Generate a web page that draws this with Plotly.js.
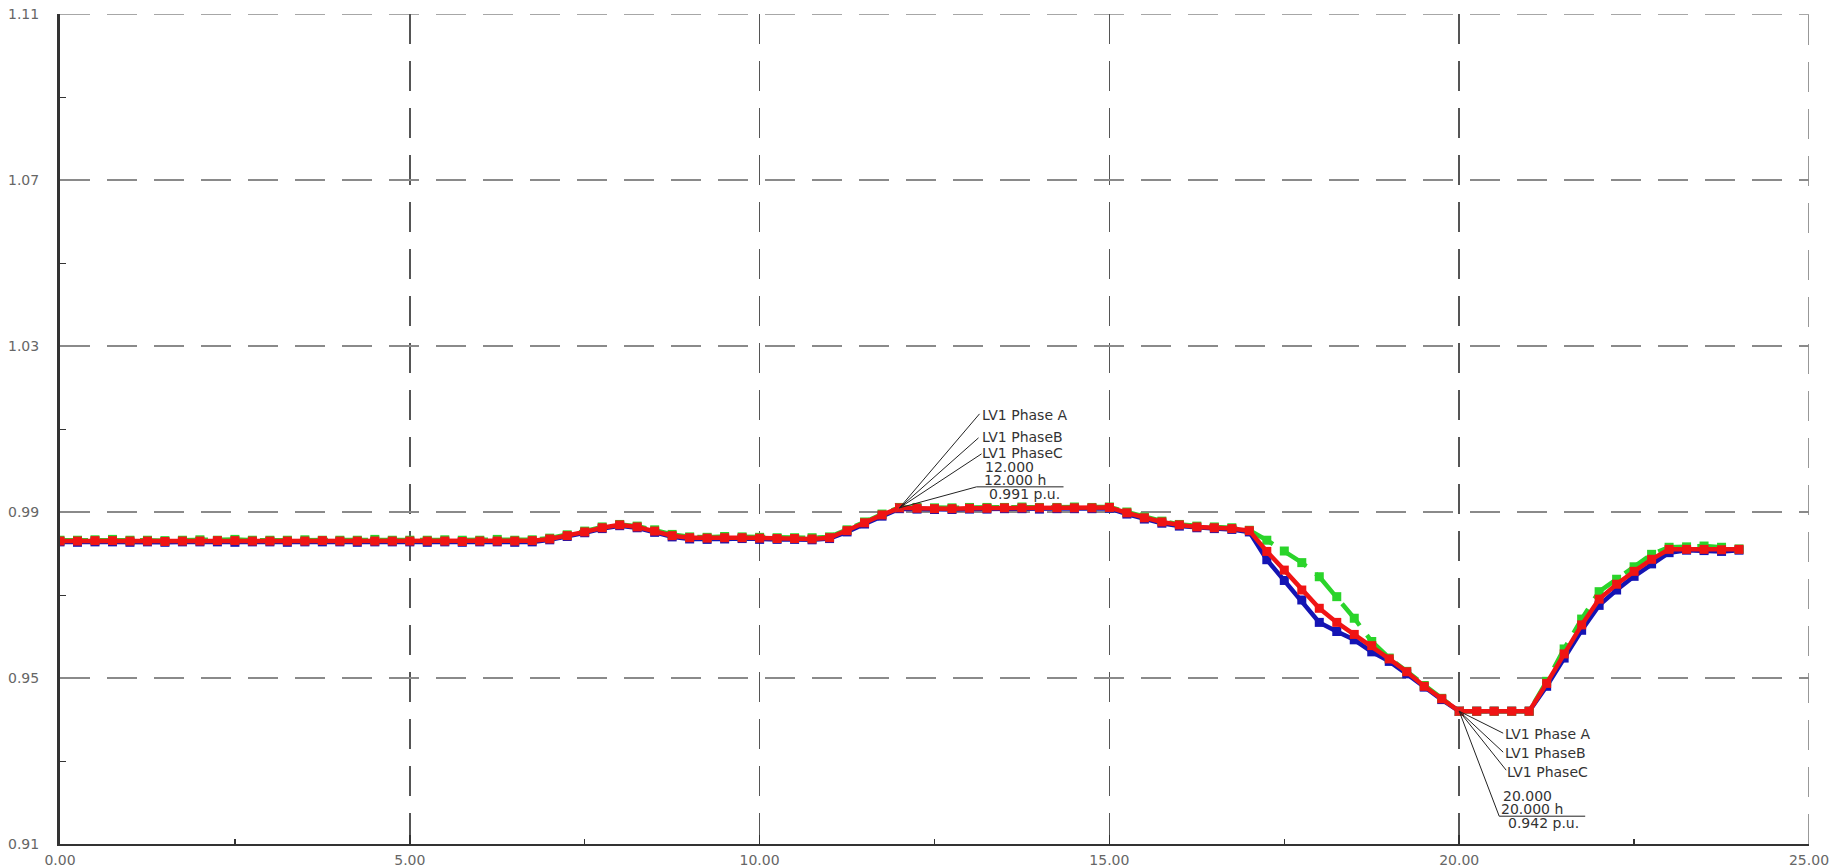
<!DOCTYPE html>
<html>
<head>
<meta charset="utf-8">
<script src="https://cdn.plot.ly/plotly-3.0.1.min.js"></script>
<style>html,body{margin:0;padding:0;background:#fff;}#chart{width:1839px;height:868px;}</style>
</head>
<body>
<div id="chart"></div>
<script>
// time in hours (15-min steps)
const hours = [0,0.25,0.5,0.75,1,1.25,1.5,1.75,2,2.25,2.5,2.75,3,3.25,3.5,3.75,4,4.25,4.5,4.75,5,5.25,5.5,5.75,6,6.25,6.5,6.75,7,7.25,7.5,7.75,8,8.25,8.5,8.75,9,9.25,9.5,9.75,10,10.25,10.5,10.75,11,11.25,11.5,11.75,12,12.25,12.5,12.75,13,13.25,13.5,13.75,14,14.25,14.5,14.75,15,15.25,15.5,15.75,16,16.25,16.5,16.75,17,17.25,17.5,17.75,18,18.25,18.5,18.75,19,19.25,19.5,19.75,20,20.25,20.5,20.75,21,21.25,21.5,21.75,22,22.25,22.5,22.75,23,23.25,23.5,23.75,24];

const phaseA = [0.9828,0.9827,0.9828,0.9828,0.9827,0.9828,0.9827,0.9828,0.9828,0.9828,0.9827,0.9828,0.9828,0.9827,0.9828,0.9828,0.9828,0.9827,0.9828,0.9828,0.9828,0.9827,0.9828,0.9827,0.9828,0.9828,0.9827,0.9828,
 0.9833,0.9841,0.9850,0.9860,0.9867,0.9862,0.9851,0.9840,0.9835,0.9834,0.9835,0.9836,0.9834,0.9834,0.9834,0.9833,0.9836,0.9852,0.9871,0.9890,
 0.9908,0.9907,0.9906,0.9906,0.9907,0.9907,0.9908,0.9908,0.9907,0.9908,0.9908,0.9908,0.9909,0.9895,0.9883,0.9873,0.9866,0.9862,0.9860,0.9858,
 0.9852,0.9785,0.9735,0.9688,0.9634,0.9612,0.9592,0.9563,0.9540,0.9510,0.9478,0.9448,0.9420,0.9420,0.9420,0.9420,0.9420,
 0.9480,0.9548,0.9615,0.9675,0.9712,0.9745,0.9775,0.9802,0.9808,0.9807,0.9805,0.9808];

const phaseB = [0.9832,0.9832,0.9833,0.9834,0.9832,0.9832,0.9831,0.9832,0.9833,0.9832,0.9834,0.9832,0.9832,0.9832,0.9833,0.9832,0.9832,0.9832,0.9834,0.9832,0.9832,0.9832,0.9833,0.9832,0.9832,0.9834,0.9832,0.9833,
 0.9837,0.9845,0.9854,0.9864,0.9870,0.9866,0.9857,0.9846,0.9840,0.9839,0.9841,0.9840,0.9839,0.9838,0.9838,0.9838,0.9840,0.9857,0.9876,0.9895,
 0.9911,0.9911,0.9910,0.9910,0.9911,0.9911,0.9911,0.9912,0.9911,0.9911,0.9912,0.9911,0.9912,0.9900,0.9888,0.9878,0.9870,0.9866,0.9864,0.9862,
 0.9856,0.9832,0.9806,0.9778,0.9744,0.9696,0.9644,0.9588,0.9548,0.9516,0.9482,0.9451,0.9420,0.9420,0.9420,0.9420,0.9420,
 0.9492,0.9570,0.9642,0.9708,0.9738,0.9768,0.9798,0.9815,0.9816,0.9818,0.9815,0.9811];

const phaseC = [0.9830,0.9830,0.9831,0.9831,0.9830,0.9830,0.9829,0.9830,0.9830,0.9831,0.9831,0.9830,0.9830,0.9830,0.9830,0.9831,0.9830,0.9830,0.9830,0.9830,0.9830,0.9830,0.9830,0.9829,0.9830,0.9830,0.9830,0.9831,
 0.9835,0.9843,0.9852,0.9862,0.9869,0.9864,0.9854,0.9843,0.9838,0.9837,0.9838,0.9838,0.9837,0.9836,0.9836,0.9835,0.9838,0.9855,0.9874,0.9893,
 0.9910,0.9909,0.9908,0.9908,0.9909,0.9909,0.9910,0.9910,0.9910,0.9910,0.9910,0.9910,0.9911,0.9898,0.9886,0.9876,0.9869,0.9864,0.9862,0.9860,
 0.9855,0.9805,0.9760,0.9712,0.9668,0.9634,0.9605,0.9578,0.9546,0.9515,0.9480,0.9450,0.9420,0.9420,0.9420,0.9420,0.9420,
 0.9487,0.9558,0.9628,0.9690,0.9726,0.9757,0.9786,0.9810,0.9810,0.9810,0.9809,0.9810];

const seriesNames = ["LV1 Phase A", "LV1 PhaseB", "LV1 PhaseC"];
const xTicks = [0, 5, 10, 15, 20, 25];
const yTicks = [0.91, 0.95, 0.99, 1.03, 1.07, 1.11];
const xMinor = [2.5, 7.5, 12.5, 17.5, 22.5];
const yMinor = [0.93, 0.97, 1.01, 1.05, 1.09];
const cursorTimes = [12, 20];

const colors = ["#1414b4", "#2ad42a", "#f01414"];
const dashes = ["solid", "28px,12px", "solid"];
const allSeries = [phaseA, phaseB, phaseC];

const traces = allSeries.map((ys, i) => ({
  x: hours, y: ys, type: "scatter", mode: "lines+markers", name: seriesNames[i],
  line: {color: colors[i], width: 4.5, dash: dashes[i]},
  marker: {symbol: "square", size: 9, color: colors[i]},
  hoverinfo: "skip", showlegend: false
}));

// cursor points read from the data arrays
const idx = cursorTimes.map(t => hours.indexOf(t));
const cx = idx.map(k => hours[k]);
const cy = idx.map(k => phaseC[k]);
traces.push({x: cx, y: cy, type: "scatter", mode: "markers",
  marker: {symbol: "x-thin-open", size: 9, line: {color: "#111", width: 1.2}},
  hoverinfo: "skip", showlegend: false});

const font = {family: "DejaVu Sans, Arial, sans-serif", size: 14, color: "#333"};
const annotations = [];
const shapes = [];
const gridDash = "30px,17px";
// closing grid lines at the top and right edges of the plot
shapes.push({type: "line", xref: "paper", yref: "y", x0: 0, x1: 1, y0: yTicks[yTicks.length - 1], y1: yTicks[yTicks.length - 1],
  line: {color: "#8a8a8a", width: 1.5, dash: gridDash}, layer: "below"});
shapes.push({type: "line", xref: "x", yref: "paper", x0: xTicks[xTicks.length - 1], x1: xTicks[xTicks.length - 1], y0: 0, y1: 1,
  line: {color: "#777", width: 1.5, dash: gridDash}, layer: "below"});

function leader(xa, ya, dx, dy) {
  shapes.push({type: "line", xref: "x", yref: "y", xsizemode: "pixel", ysizemode: "pixel",
    xanchor: xa, yanchor: ya, x0: 0, y0: 0, x1: dx, y1: dy, line: {color: "#222", width: 1}});
}
function label(xa, ya, text, dx, dy) {
  annotations.push({xref: "x", yref: "y", x: xa, y: ya, xshift: dx, yshift: dy, text: text,
    showarrow: false, xanchor: "left", yanchor: "middle", font: font});
}
// cursor 1 (above)
{
  const xa = cx[0], ya = cy[0];
  leader(xa, ya, 80, 94); leader(xa, ya, 79, 70); leader(xa, ya, 82, 54); leader(xa, ya, 77, 21);
  shapes.push({type: "line", xref: "x", yref: "y", xsizemode: "pixel", ysizemode: "pixel",
    xanchor: xa, yanchor: ya, x0: 77, y0: 21, x1: 164, y1: 21, line: {color: "#222", width: 1}});
  label(xa, ya, seriesNames[0], 80, 93);
  label(xa, ya, seriesNames[1], 80, 71);
  label(xa, ya, seriesNames[2], 80, 55);
  label(xa, ya, xa.toFixed(3), 83, 41);
  label(xa, ya, xa.toFixed(3) + " h", 82, 28);
  label(xa, ya, ya.toFixed(3) + " p.u.", 87, 14);
}
// cursor 2 (below)
{
  const xa = cx[1], ya = cy[1];
  leader(xa, ya, 44, -22); leader(xa, ya, 44, -41); leader(xa, ya, 47, -59); leader(xa, ya, 40, -105);
  shapes.push({type: "line", xref: "x", yref: "y", xsizemode: "pixel", ysizemode: "pixel",
    xanchor: xa, yanchor: ya, x0: 40, y0: -105, x1: 126, y1: -105, line: {color: "#222", width: 1}});
  label(xa, ya, seriesNames[0], 44, -23);
  label(xa, ya, seriesNames[1], 44, -42);
  label(xa, ya, seriesNames[2], 46, -61);
  label(xa, ya, xa.toFixed(3), 42, -85);
  label(xa, ya, xa.toFixed(3) + " h", 40, -98);
  label(xa, ya, ya.toFixed(3) + " p.u.", 47, -112);
}

const tickFont = {family: "DejaVu Sans, Arial, sans-serif", size: 14, color: "#666"};
const layout = {
  width: 1839, height: 868,
  margin: {l: 60, r: 30, t: 14, b: 24, pad: 0},
  paper_bgcolor: "#fff", plot_bgcolor: "#fff",
  xaxis: {
    range: [0, 25], tickvals: xTicks, tickformat: ".2f", tickfont: tickFont,
    ticks: "inside", ticklen: 9, tickcolor: "#333", tickwidth: 1.5,
    showline: true, linecolor: "#333", linewidth: 2,
    showgrid: true, gridcolor: "#555", gridwidth: 1.5, griddash: gridDash,
    zeroline: false, ticklabelstandoff: 2,
    minor: {tickvals: xMinor, ticks: "inside", ticklen: 5, tickcolor: "#333", showgrid: false}
  },
  yaxis: {
    range: [0.91, 1.11], tickvals: yTicks, tickformat: ".2f", tickfont: tickFont,
    ticks: "", showline: true, linecolor: "#333", linewidth: 3,
    showgrid: true, gridcolor: "#8a8a8a", gridwidth: 1.5, griddash: gridDash,
    zeroline: false, ticklabelstandoff: 15,
    minor: {tickvals: yMinor, ticks: "inside", ticklen: 6, tickcolor: "#333", showgrid: false}
  },
  shapes: shapes,
  annotations: annotations
};

Plotly.newPlot("chart", traces, layout, {staticPlot: true});
</script>
</body>
</html>
